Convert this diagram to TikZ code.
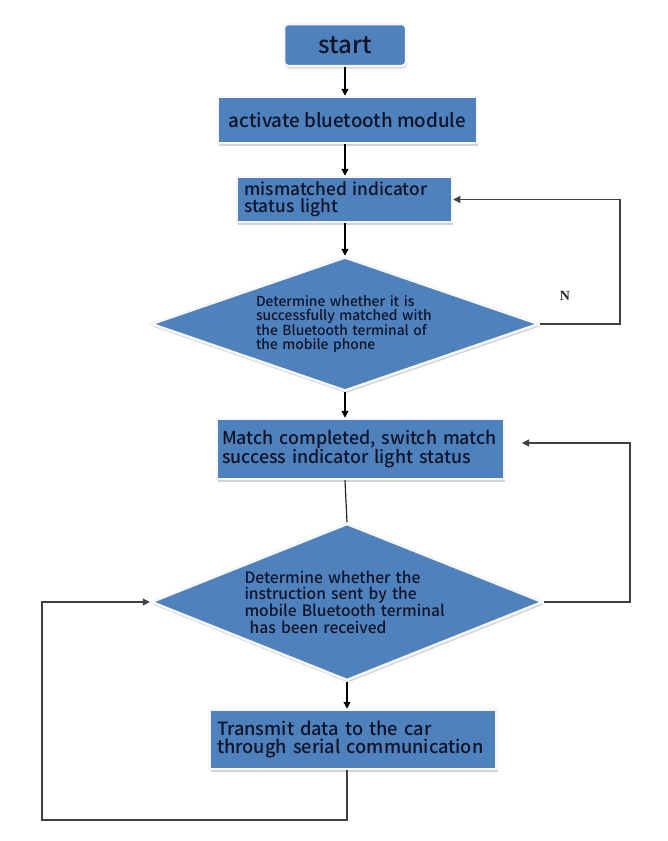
\documentclass[tikz,border=0pt]{standalone}
\usepackage{fontspec}
\setmainfont{Noto Sans CJK SC}[UprightFont=* Medium, BoldFont=* Bold]
\newfontfamily\nserif{Liberation Serif}
\usetikzlibrary{shapes.geometric,arrows.meta,shadows}
\definecolor{boxblue}{RGB}{79,129,189}
\definecolor{txt}{RGB}{12,20,42}
\definecolor{edge}{RGB}{246,246,248}
\tikzset{
  shad/.style={drop shadow={shadow xshift=1pt, shadow yshift=-2.5pt, opacity=0.35, fill=gray}},
  procbox/.style={rectangle, fill=boxblue, draw=edge, line width=2.5pt, shad, text=txt, inner sep=0pt,
    font=\fontsize{18}{18.5}\selectfont},
  decision/.style={diamond, fill=boxblue, draw=edge, line width=2.5pt, shad, text=txt, inner sep=0pt, align=left},
  arrow/.style={-{Triangle[width=7pt,length=7pt]}, line width=1.2pt, draw=black},
  loopline/.style={line width=1.2pt, draw=black!75},
  looparrow/.style={loopline, -{Triangle[width=7pt,length=7pt]}},
}
\begin{document}
\begin{tikzpicture}[x=1pt,y=-1pt]
\useasboundingbox (0,0) rectangle (668,841);
\node[procbox, rounded corners=4pt, minimum width=122pt, minimum height=42pt,
      font=\fontsize{24}{28}\selectfont] (start) at (345,45) {start};
\node[procbox, minimum width=259pt, minimum height=46pt, font=\fontsize{18.8}{20}\selectfont] (activate) at (347.5,120) {activate bluetooth module};
\node[procbox, minimum width=215pt, minimum height=45pt, text width=200pt, align=left,
      font=\fontsize{17.3}{17}\selectfont] (mism) at (344.5,199.5) {mismatched indicator\\status light};
\node[decision, minimum width=388pt, minimum height=134pt, aspect=2.9, text width=178pt,
      font=\fontsize{13.8}{13.5}\selectfont] (d1) at (345,324)
      {Determine whether it is\\successfully matched with\\the Bluetooth terminal of\\the mobile phone};
\node[procbox, minimum width=287pt, minimum height=60pt, text width=277pt, align=left,
      font=\fontsize{17.8}{18}\selectfont] (match) at (360.5,449)
      {Match completed, switch match\\success indicator light status};
\node[decision, minimum width=392pt, minimum height=157pt, aspect=2.5, text width=205pt,
      font=\fontsize{15.6}{16.6}\selectfont] (d2) at (347,602)
      {Determine whether the\\instruction sent by the\\mobile Bluetooth terminal\\\ has been received};
\node[procbox, minimum width=287pt, minimum height=59pt, text width=272pt, align=left,
      font=\fontsize{18.2}{18.5}\selectfont] (transmit) at (353,739.5)
      {Transmit data to the car\\through serial communication};
\node[font=\nserif\bfseries\fontsize{14}{16}\selectfont, text=black!85] (nlab) at (565,296) {N};
\coordinate (nr) at (620,324);
\coordinate (mt) at (522,443);
\coordinate (rr) at (630,602);
\coordinate (bl) at (42,820);
\draw[arrow] (start.south) -- (start.south |- activate.north);
\draw[arrow] (activate.south -| start.south) -- (start.south |- mism.north);
\draw[arrow] (mism.south -| start.south) -- (d1.north);
\draw[looparrow] (d1.east) -- (nr) |- (mism.east);
\draw[arrow] (d1.south) -- (d1.south |- match.north);
\draw[loopline, draw=black!85] (match.south -| d1.south) -- (d2.north);
\draw[looparrow] (d2.east) -- (rr) |- (mt);
\draw[arrow] (d2.south) -- (d2.south |- transmit.north);
\draw[looparrow] (transmit.south -| d2.south) |- (bl) |- (d2.west);
\end{tikzpicture}
\end{document}
